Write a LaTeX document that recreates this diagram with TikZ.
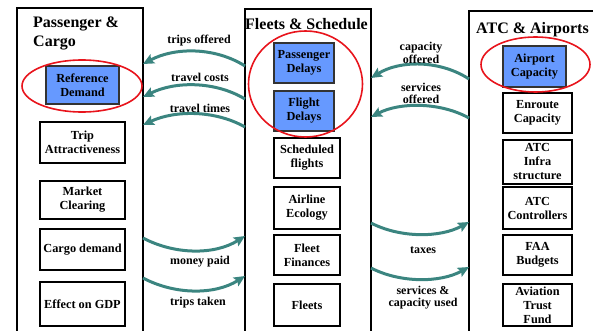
\documentclass[tikz,border=0pt]{standalone}
\usepackage{fontspec}
\setmainfont{Liberation Serif}
\usetikzlibrary{arrows.meta}
\definecolor{teal1}{HTML}{3B8580}
\definecolor{boxblue}{HTML}{6699FF}
\definecolor{ringred}{HTML}{E8141C}
\tikzset{
  panel/.style={draw=black,line width=1.8pt},
  box/.style={draw=black,line width=1.6pt,fill=white,align=center,inner sep=1pt,
    font=\fontsize{12.3}{14}\selectfont\bfseries},
  bluebox/.style={box,fill=boxblue,draw=black!80,line width=1.2pt},
  ttl/.style={font=\fontsize{16}{19}\selectfont\bfseries,inner sep=0pt},
  lbl/.style={font=\fontsize{12}{12.5}\selectfont\bfseries,align=center,inner sep=0pt},
  flow/.style={draw=teal1,line width=3pt,-{Stealth[length=11pt,width=10pt,inset=2pt]}},
  ring/.style={draw=ringred,line width=1.6pt}
}
\begin{document}
\begin{tikzpicture}[x=1pt,y=-1pt]
\useasboundingbox (0,0) rectangle (593,331);
\clip (0,0) rectangle (593,331);
% panels
\draw[panel] (17,8) rectangle (143,345);
\draw[panel] (245,9) rectangle (371,345);
\draw[panel] (469,11) rectangle (610,345);
% titles
\node[ttl,anchor=west,align=left] (t1) at (33,33) {Passenger \&\\Cargo};
\node[ttl] (t2) at (306.5,24) {Fleets \& Schedule};
\node[ttl] (t3) at (532.5,30) {ATC \& Airports};
% left boxes
\node[bluebox,minimum width=73pt,minimum height=38pt] (refd) at (82.5,85) {Reference\\Demand};
\node[box,minimum width=85pt,minimum height=41pt] (trip) at (82.5,142.5) {Trip\\Attractiveness};
\node[box,minimum width=85pt,minimum height=38pt] (mkt) at (82.5,200) {Market\\Clearing};
\node[box,minimum width=85pt,minimum height=41pt] (cargo) at (82.5,249.5) {Cargo demand};
\node[box,minimum width=85pt,minimum height=44pt] (gdp) at (82.5,304) {Effect on GDP};
% middle boxes
\node[bluebox,minimum width=60pt,minimum height=40pt] (pdel) at (304,63) {Passenger\\Delays};
\node[bluebox,minimum width=60pt,minimum height=40pt] (fdel) at (304,111) {Flight\\Delays};
\node[box,minimum width=66pt,minimum height=40pt] (sched) at (307,158) {Scheduled\\flights};
\node[box,minimum width=66pt,minimum height=42pt] (eco) at (307,208) {Airline\\Ecology};
\node[box,minimum width=66pt,minimum height=40pt] (fin) at (307,255) {Fleet\\Finances};
\node[box,minimum width=66pt,minimum height=42pt] (flt) at (307,305) {Fleets};
% right boxes
\node[bluebox,minimum width=63pt,minimum height=41pt] (apc) at (534.5,66.5) {Airport\\Capacity};
\node[box,minimum width=69pt,minimum height=40pt] (enr) at (537.5,113) {Enroute\\Capacity};
\node[box,minimum width=69pt,minimum height=44pt] (infra) at (537.5,162) {ATC\\Infra\\structure};
\node[box,minimum width=69pt,minimum height=42pt] (ctrl) at (537.5,208) {ATC\\Controllers};
\node[box,minimum width=69pt,minimum height=40pt] (faa) at (537.5,255) {FAA\\Budgets};
\node[box,minimum width=69pt,minimum height=42pt] (fund) at (537.5,305) {Aviation\\Trust\\Fund};
% rings
\draw[ring] (82,86) ellipse [x radius=60, y radius=26];
\draw[ring] (305.5,84) ellipse [x radius=57, y radius=53];
\draw[ring] (535.5,64.5) ellipse [x radius=54.5, y radius=27.5];
% arrow end points
\coordinate (m1) at (245,66);  \coordinate (l1) at (143,64);
\coordinate (m2) at (245,99);  \coordinate (l2) at (143,97);
\coordinate (m3) at (245,127); \coordinate (l3) at (143,125);
\coordinate (l4) at (143,238); \coordinate (m4) at (245,236);
\coordinate (l5) at (143,278); \coordinate (m5) at (245,276);
\coordinate (r1) at (469,79);  \coordinate (n1) at (371,78);
\coordinate (r2) at (469,118); \coordinate (n2) at (371,117);
\coordinate (n3) at (371,223); \coordinate (r3) at (469,222);
\coordinate (n4) at (371,268); \coordinate (r4) at (469,267);
% flows
\draw[flow] (m1) .. controls (215,47) and (175,47) .. (l1);
\draw[flow] (m2) .. controls (215,81) and (175,81) .. (l2);
\draw[flow] (m3) .. controls (215,110) and (175,110) .. (l3);
\draw[flow] (l4) .. controls (175,255) and (215,255) .. (m4);
\draw[flow] (l5) .. controls (175,295) and (215,295) .. (m5);
\draw[flow] (r1) .. controls (440,60) and (400,60) .. (n1);
\draw[flow] (r2) .. controls (440,102) and (400,102) .. (n2);
\draw[flow] (n3) .. controls (400,238) and (440,238) .. (r3);
\draw[flow] (n4) .. controls (400,283) and (440,283) .. (r4);
% labels
\node[lbl] (a1) at (199,41) {trips offered};
\node[lbl] (a2) at (200,77) {travel costs};
\node[lbl] (a3) at (200,108) {travel times};
\node[lbl] (a4) at (200,262) {money paid};
\node[lbl] (a5) at (198,303) {trips taken};
\node[lbl] (b1) at (421,53) {capacity\\offered};
\node[lbl] (b2) at (421,93.5) {services\\offered};
\node[lbl] (b3) at (423,250) {taxes};
\node[lbl] (b4) at (423,297.5) {services \&\\capacity used};
\end{tikzpicture}
\end{document}
